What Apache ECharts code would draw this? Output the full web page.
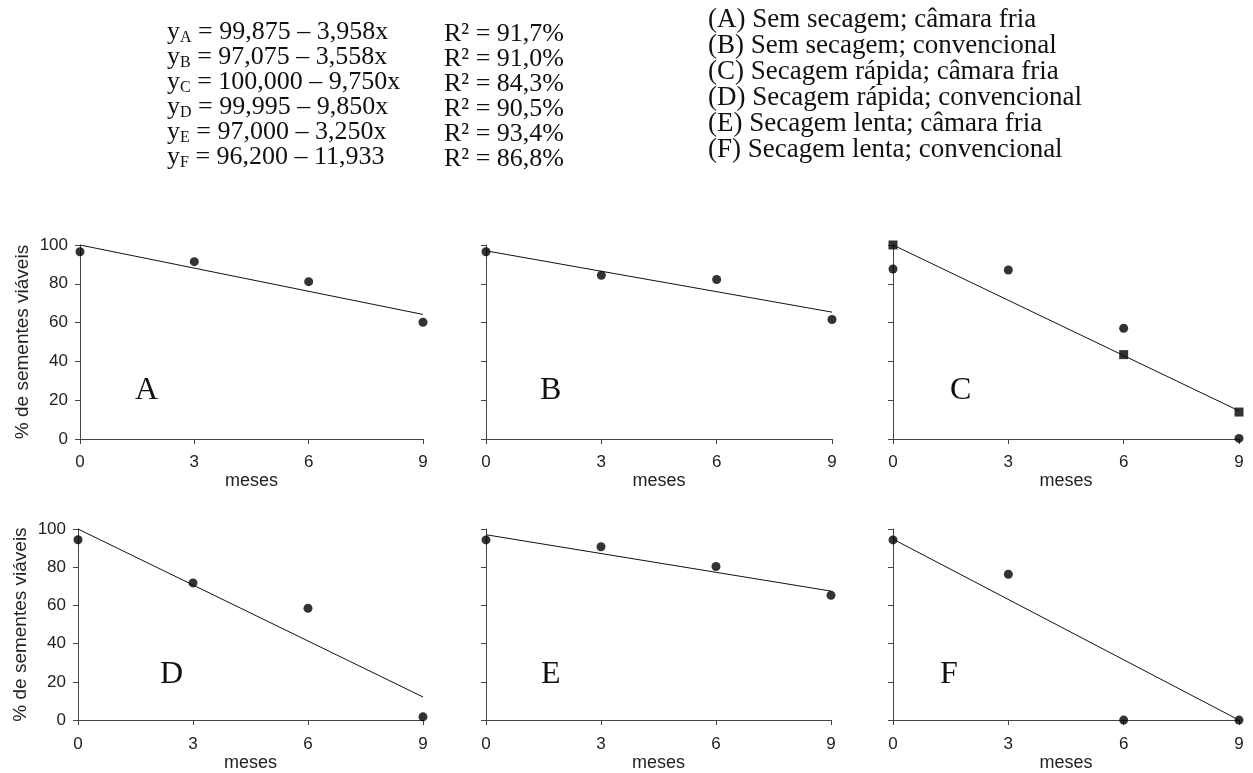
<!DOCTYPE html>
<html>
<head>
    <meta charset="utf-8">
    <title>Sementes viáveis</title>
    <script src="https://cdn.jsdelivr.net/npm/echarts@6/dist/echarts.min.js"></script>
</head>
<body style="margin:0;background:#fff;">
    <div id="main" style="width:1253px;height:773px;"></div>
    <script type="text/javascript">
        // dados
        var months = [0, 3, 6, 9];
        var panelNames = ['A', 'B', 'C', 'D', 'E', 'F'];
        var pointsA = [96.5, 91.4, 81.1, 60.2];
        var pointsB = [96.5, 84.4, 82.2, 61.6];
        var pointsC = [87.6, 87.1, 57.1, 0.3];
        var pointsD = [94.4, 71.8, 58.5, 1.7];
        var pointsE = [94.3, 90.7, 80.4, 65.3];
        var pointsF = [94.3, 76.3, 0, 0];
        // quadrados do painel C
        var squareMonthsC = [0, 6, 9];
        var squaresC = [100, 43.5, 13.9];
        // linhas de tendência (inicio em 0, fim em 9 meses)
        var trendA = [100, 64.2];
        var trendB = [97, 65.4];
        var trendC = [100, 14.5];
        var trendD = [100, 12.1];
        var trendE = [97, 67.5];
        var trendF = [94.7, 0];

        // equações e legenda
        var eqSub = ['A', 'B', 'C', 'D', 'E', 'F'];
        var eqRight = ['99,875 – 3,958x', '97,075 – 3,558x', '100,000 – 9,750x',
                       '99,995 – 9,850x', '97,000 – 3,250x', '96,200 – 11,933'];
        var r2 = ['91,7%', '91,0%', '84,3%', '90,5%', '93,4%', '86,8%'];
        var legendLines = ['(A) Sem secagem; câmara fria', '(B) Sem secagem; convencional',
                           '(C) Secagem rápida; câmara fria', '(D) Secagem rápida; convencional',
                           '(E) Secagem lenta; câmara fria', '(F) Secagem lenta; convencional'];

        var allPoints = [pointsA, pointsB, pointsC, pointsD, pointsE, pointsF];
        var allTrends = [trendA, trendB, trendC, trendD, trendE, trendF];

        var grids = [
            {left: 80, top: 245, width: 343, height: 194},
            {left: 486, top: 245, width: 346, height: 194},
            {left: 893, top: 245, width: 346, height: 194},
            {left: 78, top: 529, width: 345, height: 195},
            {left: 486, top: 529, width: 345, height: 195},
            {left: 893, top: 529, width: 346, height: 195}
        ];
        var letterPos = [[135, 375], [540, 375], [950, 375], [160, 659], [541, 659], [940, 659]];

        var serif = '"Liberation Serif", "Times New Roman", serif';
        var sans = '"Liberation Sans", Arial, sans-serif';
        var axisColor = '#444';

        var myChart = echarts.init(document.getElementById('main'));

        var xAxes = [], yAxes = [], series = [], graphics = [];
        for (var i = 0; i < 6; i++) {
            var bottomRow = i >= 3;
            xAxes.push({
                gridIndex: i, type: 'value', min: 0, max: 9, interval: 3,
                name: 'meses', nameLocation: 'middle', nameGap: bottomRow ? 30 : 32,
                nameTextStyle: {fontFamily: sans, fontSize: 18, color: '#222'},
                axisLine: {lineStyle: {color: axisColor, width: 1}},
                axisTick: {show: true, length: 5, lineStyle: {color: axisColor}},
                axisLabel: {fontFamily: sans, fontSize: 17, color: '#222', margin: bottomRow ? 16 : 15},
                splitLine: {show: false}
            });
            var leftCol = (i === 0 || i === 3);
            yAxes.push({
                gridIndex: i, type: 'value', min: 0, max: 100, interval: 20,
                name: leftCol ? '% de sementes viáveis' : '', nameLocation: 'middle', nameGap: 48,
                nameTextStyle: {fontFamily: sans, fontSize: 19, color: '#222'},
                axisLine: {show: true, lineStyle: {color: axisColor, width: 1}},
                axisTick: {show: true, length: 5, lineStyle: {color: axisColor}},
                axisLabel: {show: leftCol, fontFamily: sans, fontSize: 17, color: '#222', margin: 12},
                splitLine: {show: false}
            });
            var trend = allTrends[i];
            series.push({
                type: 'line', xAxisIndex: i, yAxisIndex: i,
                data: [[months[0], trend[0]], [months[3], trend[1]]],
                symbol: 'none', lineStyle: {color: '#111', width: 1}, silent: true
            });
            var pts = allPoints[i];
            series.push({
                type: 'scatter', xAxisIndex: i, yAxisIndex: i, clip: false,
                data: months.map(function (m, k) { return [m, pts[k]]; }),
                symbol: 'circle', symbolSize: 9, itemStyle: {color: '#000'}
            });
            graphics.push({
                type: 'text', left: letterPos[i][0], top: letterPos[i][1], silent: true,
                style: {text: panelNames[i], font: '32px ' + serif, fill: '#111'}
            });
        }
        series.push({
            type: 'scatter', xAxisIndex: 2, yAxisIndex: 2, clip: false,
            data: squareMonthsC.map(function (m, k) { return [m, squaresC[k]]; }),
            symbol: 'rect', symbolSize: 9, itemStyle: {color: '#000'}
        });

        for (var j = 0; j < eqSub.length; j++) {
            graphics.push({
                type: 'text', left: 167, top: 19 + j * 25, silent: true,
                style: {
                    text: '{y|y}{s|' + eqSub[j] + '}{y| = ' + eqRight[j] + '}',
                    rich: {
                        y: {fontFamily: serif, fontSize: 26, lineHeight: 28, fill: '#111'},
                        s: {fontFamily: serif, fontSize: 16, lineHeight: 16, verticalAlign: 'bottom', fill: '#111'}
                    }
                }
            });
            graphics.push({
                type: 'text', left: 444, top: 21 + j * 25, silent: true,
                style: {text: 'R² = ' + r2[j], font: '26px ' + serif, fill: '#111', lineHeight: 25}
            });
            graphics.push({
                type: 'text', left: 708, top: 6 + j * 26, silent: true,
                style: {text: legendLines[j], font: '27px ' + serif, fill: '#111', lineHeight: 26}
            });
        }

        var option = {
            backgroundColor: '#fff',
            animation: false,
            grid: grids,
            xAxis: xAxes,
            yAxis: yAxes,
            series: series,
            graphic: graphics
        };

        myChart.setOption(option);
    </script>
</body>
</html>
